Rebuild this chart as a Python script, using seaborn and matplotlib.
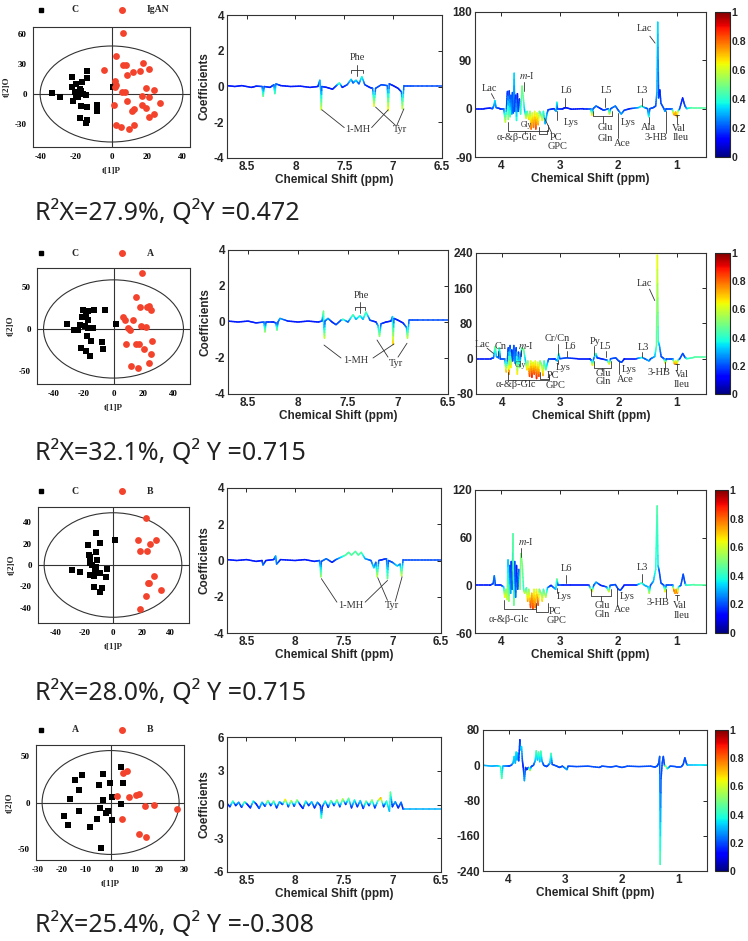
import numpy as np
import pandas as pd
import matplotlib
matplotlib.use("Agg")
import matplotlib.pyplot as plt
import seaborn as sns
from matplotlib.collections import LineCollection
from matplotlib.colors import Normalize
from matplotlib.patches import Ellipse
from matplotlib.lines import Line2D
from matplotlib.ticker import MultipleLocator
import matplotlib.cm as cm

# === Score plot points (t[1]P, t[2]O) ===
r1_black_x = [-33.6, -28.7, -22, -22, -20, -16.6, -13.8, -13.8, -20.7, -17.9, -17, -16, -14.5, -19.8,
              -21.3, -18.9, -17, -13.8, -17.9, -13.8, -14.2, -8.1, -8.1, 0.9]
r1_black_y = [0.7, -3.3, 16.7, 7.3, 10, 11.7, 23.3, 16, 1.7, 5, 2.7, 0, -0.7, -3.3,
              -6.7, -3.3, -11.7, -13.3, -24, -26, -29.3, -10.7, -17.3, 7.3]
r1_red_x = [6.2, 2.8, -4.3, 6.2, 8.1, 17.5, 20.8, 15.7, 12.3, 8.9, 1.9, 2.8, 1.9, 5.8, 7.7, 19.4, 23.6,
            17, 20.8, 8.5, 1.5, 17, 19.2, 27.4, 11.7, 12.5, 20.8, 24, 2.8, 5.5, 9.6, 12.6]
r1_red_y = [60.7, 38.3, 24, 29.3, 29.3, 30.7, 25, 23.3, 21.7, 19.3, 12.7, 9.3, 6.7, 1.7, 1.7, 6, 4,
            -1.7, -3.3, -6.7, -10.7, -10.7, -14, -9.3, -16.7, -15, -23.3, -20, -30.7, -32.7, -34.7, -30.7]

r2_black_x = [-31.3, -26.4, -24.1, -22.3, -20.6, -16.8, -13, -21.2, -18.3, -17.4, -19, -17.4, -15.1, -13.8,
              -17.9, -15.1, -21.8, -18.3, -16.1, -7.8, -7.2, -5.8, 1.8]
r2_black_y = [5.9, -0.8, -0.8, 5.1, 22.9, 20.9, 22.1, 14.2, 15, 10.3, 3.2, 0.8, 1.2, 1.2,
              -7.9, -14.6, -22.5, -26.5, -32.4, -15.8, -23.7, 22.9, 6.3]
r2_red_x = [19.4, 15.2, 17.9, 22.3, 24.1, 25, 6.3, 8, 13, 10, 11.2, 18.8, 21.9, 25.9, 8.5, 15.2, 17.4,
            20.6, 25.5, 11.7, 16.6, 23.7]
r2_red_y = [65.6, 37.2, 26.1, 26.1, 26.9, 22.9, 14.2, 10.3, 10.3, 0.8, -1.6, 4, 2.4, -14.2, -18.2, -17.4,
            -18.2, -23.7, -30, -44.3, -46.2, -40.3]

r3_black_x = [-12.1, -17.4, -8.8, -16.7, -15.8, -12.1, -11.2, -16.3, -14.9, -12.1, -12.6, -28.4, -22.8,
              -8.8, -4.2, -5.1, -15.8, -13, -13.5, -7.9, -8.8, 1.2]
r3_black_y = [29.9, 18.9, 21.1, 9.4, 7.2, 12.6, 4.7, 1.6, -0.3, -2.2, -4.7, -4.7, -6.3,
              -7.2, -3.5, -11.6, -9.4, -10.4, -21.1, -22, -25.5, 23.6]
r3_red_x = [23.3, 17.4, 29.8, 26, 18.6, 23.7, 28.4, 25.1, 24.4, 33.5, 23.3, 18.6]
r3_red_y = [44, 23.6, 23.6, 19.8, 13.5, 12.9, -10, -16.7, -16.7, -23.6, -29.2, -40.9]

r4_black_x = [4.3, -11.5, -14.7, -3.1, -12.9, -4.7, -0.1, 5, -16.7, -3.1, 0.7, 4.3, -4.5, -12.9, -1.2,
              -1.8, -5.6, 0.4, -19.1, -17.4, -8.5, -3.8]
r4_black_y = [37.8, 29.5, 24.5, 30.6, 13, 19.4, 20.9, 20.9, 4, 2.2, 5.4, -1.4, -5.8, -9, -9.7,
              -11.5, -18, -18.7, -14.4, -24.1, -25.9, -49.3]
r4_red_x = [2.7, 5, 6.6, 7.5, 10.4, 11.5, 14.2, 17.9, 27.1, 4.6, 11.5, 14.4]
r4_red_y = [7.2, 31.7, 33.8, 5.4, 7.9, 9, -3.6, -2.9, -6.8, -17.3, -34.2, -37.4]

group_labels = [("C", "IgAN"), ("C", "A"), ("C", "B"), ("A", "B")]
stats_text = ["R\u00b2X=27.9%, Q\u00b2Y =0.472", "R\u00b2X=32.1%, Q\u00b2 Y =0.715",
              "R\u00b2X=28.0%, Q\u00b2 Y =0.715", "R\u00b2X=25.4%, Q\u00b2 Y =-0.308"]

# === Coefficient spectra: (ppm, coefficient, |r|) ===
mid1 = [(8.70, 0.05, .15), (8.62, 0.0, .15), (8.55, 0.05, .15), (8.45, -0.05, .15), (8.40, 0.02, .15),
        (8.34, 0.0, .2), (8.33, -0.55, .5), (8.32, 0.0, .2), (8.26, -0.05, .15), (8.22, 0.1, .2),
        (8.21, -0.4, .45), (8.20, 0.15, .25), (8.15, 0.05, .15), (8.05, 0.0, .15), (7.95, 0.02, .15),
        (7.85, -0.05, .15), (7.77, 0.0, .15), (7.75, 0.35, .3), (7.74, -0.3, .3), (7.735, -1.3, .62),
        (7.73, 0.0, .2), (7.68, -0.05, .15), (7.62, -0.15, .15), (7.58, 0.05, .2), (7.55, 0.2, .45),
        (7.52, -0.05, .15), (7.47, 0.1, .2), (7.43, 0.4, .35), (7.41, 0.2, .2), (7.38, 0.35, .35),
        (7.35, 0.15, .2), (7.32, 0.55, .4), (7.29, 0.1, .2), (7.24, -0.05, .15), (7.21, -0.1, .2),
        (7.195, -1.1, .65), (7.18, -0.1, .2), (7.12, 0.1, .2), (7.06, 0.05, .2), (7.05, -1.35, .68),
        (7.04, 0.15, .2), (7.0, 0.05, .15), (6.95, -0.1, .15), (6.915, -0.3, .2), (6.905, -1.25, .6),
        (6.89, 0.05, .2), (6.8, 0.05, .2), (6.5, 0.05, .2)]
mid2 = [(8.70, 0.05, .15), (8.6, 0.0, .15), (8.5, 0.05, .15), (8.42, -0.05, .15), (8.34, 0.0, .2),
        (8.33, -0.55, .55), (8.32, 0.0, .2), (8.25, 0.0, .15), (8.22, -0.05, .2), (8.21, -0.45, .5),
        (8.2, 0.0, .2), (8.18, 0.2, .3), (8.1, 0.05, .15), (8.0, 0.0, .15), (7.9, 0.05, .15), (7.8, 0.0, .15),
        (7.76, 0.05, .2), (7.745, 0.6, .5), (7.74, -0.3, .3), (7.735, -0.9, .62), (7.73, 0.05, .2),
        (7.7, 0.2, .3), (7.66, 0.0, .15), (7.62, -0.15, .2), (7.57, 0.1, .2), (7.55, 0.15, .45),
        (7.5, 0.0, .2), (7.45, 0.4, .45), (7.42, 0.15, .3), (7.38, 0.35, .4), (7.35, 0.15, .3),
        (7.32, 0.55, .45), (7.28, 0.1, .2), (7.22, 0.0, .15), (7.2, -0.2, .3), (7.185, -0.8, .55),
        (7.17, -0.1, .2), (7.12, 0.0, .15), (7.07, 0.05, .15), (7.055, 0.3, .3), (7.05, -1.25, .72),
        (7.04, 0.2, .2), (7.0, 0.1, .15), (6.95, -0.05, .15), (6.915, -0.3, .25), (6.905, -0.9, .6),
        (6.89, 0.1, .2), (6.8, 0.1, .2), (6.5, 0.1, .2)]
mid3 = [(8.7, 0.05, .15), (8.6, 0.0, .15), (8.5, 0.05, .15), (8.4, -0.05, .15), (8.34, 0.0, .15),
        (8.33, -0.25, .25), (8.3, 0.0, .15), (8.22, 0.05, .15), (8.2, 0.25, .3), (8.19, -0.2, .25),
        (8.15, 0.05, .15), (8.0, 0.0, .15), (7.9, 0.05, .15), (7.8, -0.05, .15), (7.75, 0.0, .2),
        (7.74, -0.4, .4), (7.735, -0.9, .55), (7.73, -0.05, .2), (7.68, 0.1, .25), (7.62, -0.1, .15),
        (7.58, 0.05, .2), (7.52, 0.2, .35), (7.48, 0.3, .45), (7.45, 0.45, .45), (7.42, 0.3, .45),
        (7.38, 0.5, .45), (7.35, 0.3, .45), (7.32, 0.45, .45), (7.28, 0.1, .3), (7.22, 0.0, .2),
        (7.19, -0.4, .35), (7.17, -0.1, .2), (7.155, -0.9, .6), (7.14, 0.0, .2), (7.1, 0.05, .15),
        (7.06, 0.1, .2), (7.05, -1.0, .5), (7.04, 0.0, .2), (7.0, -0.1, .2), (6.95, -0.3, .35),
        (6.92, -0.2, .25), (6.905, -0.85, .6), (6.89, 0.05, .2), (6.7, 0.05, .2), (6.5, 0.05, .2)]
mid4 = [(8.70, 0.1, .2), (8.67, -0.2, .15), (8.64, 0.3, .45), (8.61, -0.1, .15), (8.58, 0.2, .3),
        (8.55, -0.25, .15), (8.52, 0.25, .5), (8.49, 0.0, .15), (8.46, -0.3, .15), (8.43, 0.3, .4),
        (8.40, 0.05, .15), (8.37, -0.35, .2), (8.34, 0.2, .35), (8.31, -0.15, .15), (8.28, 0.35, .55),
        (8.25, -0.1, .15), (8.22, 0.3, .5), (8.19, -0.3, .15), (8.16, 0.25, .35), (8.13, 0.0, .15),
        (8.10, 0.45, .7), (8.07, -0.2, .15), (8.04, 0.35, .6), (8.01, -0.15, .15), (7.98, 0.4, .55),
        (7.95, 0.0, .15), (7.92, -0.35, .15), (7.89, 0.3, .4), (7.86, -0.1, .15), (7.83, 0.25, .35),
        (7.80, -0.3, .15), (7.77, 0.2, .3), (7.74, -0.1, .15), (7.73, -1.2, .45), (7.72, -0.2, .15),
        (7.69, 0.3, .4), (7.66, -0.25, .15), (7.63, 0.35, .5), (7.60, -0.1, .15), (7.57, 0.4, .55),
        (7.54, -0.2, .15), (7.51, 0.5, .6), (7.48, 0.0, .15), (7.45, 0.55, .5), (7.42, -0.3, .15),
        (7.39, 0.4, .4), (7.36, -0.2, .15), (7.33, 0.35, .35), (7.30, -0.35, .15), (7.27, 0.3, .5),
        (7.24, -0.1, .15), (7.21, 0.4, .55), (7.18, -0.3, .15), (7.15, 0.3, .4), (7.12, 0.6, .75),
        (7.09, -0.2, .15), (7.06, 0.3, .4), (7.03, -0.6, .3), (7.02, 1.1, .5), (7.00, -0.2, .15),
        (6.97, 0.25, .3), (6.94, -0.3, .15), (6.91, 0.2, .25), (6.89, -0.4, .15), (6.88, -0.4, .3),
        (6.5, -0.4, .3)]

right1 = [(4.45, 0, .15), (4.3, 0, .15), (4.2, 1, .15), (4.15, 0, .2), (4.12, 8, .3), (4.11, 15, .35),
          (4.09, 2, .25), (4.02, 0, .15), (3.96, 0, .2), (3.93, -25, .62), (3.91, 5, .2), (3.895, 32, .15),
          (3.88, -20, .55), (3.865, 33, .15), (3.85, -15, .45), (3.835, 25, .2), (3.82, -10, .3),
          (3.81, 30, .2), (3.795, -8, .2), (3.78, 66, .35), (3.77, -5, .2), (3.755, 25, .15),
          (3.74, -22, .4), (3.725, 28, .15), (3.71, -5, .2), (3.69, 18, .15), (3.67, -10, .4),
          (3.645, 42, .5), (3.62, 15, .45), (3.6, -5, .3), (3.575, -18, .62), (3.56, -5, .4),
          (3.53, -20, .7), (3.51, -5, .5), (3.49, -38, .8), (3.47, -8, .6), (3.45, -35, .8),
          (3.43, -5, .6), (3.41, -38, .85), (3.39, -8, .6), (3.37, -30, .75), (3.35, -5, .5),
          (3.33, -8, .4), (3.3, -22, .65), (3.28, -5, .4), (3.25, -28, .3), (3.22, -10, .3),
          (3.2, -2, .2), (3.1, 0, .15), (3.06, -5, .3), (3.05, 12, .4), (3.04, 0, .2), (2.95, 0, .15),
          (2.9, 2, .15), (2.8, -1, .15), (2.6, 0, .15), (2.47, 0, .2), (2.45, -12, .7), (2.43, 0, .2),
          (2.38, 5, .25), (2.3, 0, .15), (2.25, -3, .2), (2.17, 0, .2), (2.15, -10, .65), (2.13, 0, .2),
          (2.05, 5, .25), (2.0, -3, .2), (1.95, -10, .3), (1.9, -3, .2), (1.8, 0, .15), (1.65, 2, .3),
          (1.6, 5, .45), (1.55, 2, .3), (1.5, 0, .2), (1.48, -15, .4), (1.46, 0, .2), (1.4, 2, .2),
          (1.36, 5, .2), (1.34, 30, .3), (1.325, 161, .35), (1.31, 20, .2), (1.29, 35, .15),
          (1.27, 10, .2), (1.22, 0, .2), (1.2, -5, .3), (1.18, 0, .2), (1.08, 0, .2), (1.06, -8, .65),
          (1.04, -12, .75), (1.02, -6, .7), (1.0, -15, .75), (0.98, -5, .6), (0.95, 0, .2),
          (0.9, 20, .15), (0.86, 5, .2), (0.83, 0, .3), (0.75, 2, .45), (0.5, 2, .45)]
right2 = [(4.45, 0, .15), (4.2, 0, .15), (4.15, 2, .2), (4.12, 28, .5), (4.1, 5, .3), (4.06, 2, .2),
          (4.05, 25, .45), (4.03, 0, .2), (3.96, 0, .2), (3.93, -30, .75), (3.91, 0, .2), (3.895, 25, .15),
          (3.88, -35, .8), (3.865, 30, .15), (3.85, -20, .7), (3.835, 20, .15), (3.82, -5, .2),
          (3.8, 30, .2), (3.78, -10, .3), (3.76, 25, .15), (3.74, -35, .7), (3.72, 15, .15),
          (3.7, -20, .5), (3.68, 10, .2), (3.66, 25, .45), (3.63, 20, .5), (3.6, -5, .3),
          (3.575, -25, .7), (3.56, -5, .5), (3.53, -40, .85), (3.51, -5, .6), (3.49, -42, .9),
          (3.47, -8, .6), (3.45, -35, .85), (3.43, -5, .6), (3.41, -45, .9), (3.39, -8, .6),
          (3.37, -40, .85), (3.35, -5, .5), (3.32, -15, .5), (3.3, -38, .75), (3.28, -5, .4),
          (3.25, -25, .45), (3.22, -8, .3), (3.2, 0, .2), (3.1, 0, .15), (3.05, -5, .3), (3.03, 12, .45),
          (3.01, 0, .2), (2.9, 2, .2), (2.7, 0, .15), (2.5, 0, .15), (2.47, -3, .2), (2.45, -15, .7),
          (2.43, 0, .2), (2.39, 12, .45), (2.37, 2, .2), (2.3, 0, .15), (2.2, -3, .2), (2.16, -12, .7),
          (2.14, 0, .2), (2.05, 2, .2), (2.0, -5, .2), (1.95, -8, .2), (1.9, 0, .15), (1.7, 0, .15),
          (1.6, 3, .4), (1.55, 0, .2), (1.48, -5, .3), (1.45, 0, .2), (1.38, 5, .3), (1.35, 30, .45),
          (1.335, 235, .65), (1.32, 40, .4), (1.3, 30, .3), (1.27, 5, .2), (1.22, 0, .2), (1.2, -10, .7),
          (1.18, 0, .2), (1.07, 0, .2), (1.04, -12, .8), (1.02, -5, .6), (1.0, -12, .75), (0.98, -3, .5),
          (0.95, 0, .2), (0.9, 12, .2), (0.86, 3, .2), (0.83, 0, .4), (0.7, 3, .45), (0.5, 3, .45)]
right3 = [(4.45, 0, .15), (4.2, 0, .15), (4.14, 2, .2), (4.12, 12, .25), (4.1, 0, .2), (4.0, 0, .15),
          (3.96, -2, .3), (3.94, -15, .65), (3.92, -5, .5), (3.9, -18, .6), (3.885, 32, .3),
          (3.87, -20, .55), (3.855, 25, .2), (3.84, -10, .3), (3.83, 30, .15), (3.815, -5, .2),
          (3.8, 65, .45), (3.785, -25, .5), (3.77, 30, .2), (3.755, -15, .25), (3.74, 25, .15),
          (3.72, -5, .2), (3.7, 20, .2), (3.68, -5, .5), (3.665, 40, .5), (3.64, 25, .5), (3.62, -5, .4),
          (3.6, -10, .6), (3.57, -3, .4), (3.55, -20, .75), (3.53, -5, .5), (3.5, -28, .85),
          (3.48, -10, .7), (3.46, -30, .85), (3.44, -5, .6), (3.42, -28, .8), (3.4, -5, .6),
          (3.37, -25, .85), (3.35, -5, .5), (3.32, -10, .5), (3.3, -20, .7), (3.28, -5, .4),
          (3.24, -15, .6), (3.21, -3, .3), (3.15, 0, .15), (3.07, -5, .3), (3.05, 8, .5), (3.03, 0, .2),
          (2.9, 0, .15), (2.7, 0, .15), (2.5, 0, .15), (2.45, -8, .7), (2.42, 0, .2), (2.38, 4, .3),
          (2.3, 0, .15), (2.2, -2, .2), (2.16, -8, .65), (2.14, 0, .2), (2.05, 1, .2), (2.0, -5, .2),
          (1.96, -6, .2), (1.9, 0, .15), (1.7, 0, .15), (1.6, 3, .45), (1.55, 0, .3), (1.49, -2, .3),
          (1.47, -10, .6), (1.45, 0, .2), (1.4, 5, .3), (1.36, 20, .4), (1.335, 100, .45), (1.32, 25, .35),
          (1.3, 18, .2), (1.27, 3, .2), (1.22, 0, .2), (1.2, -8, .7), (1.18, 0, .2), (1.07, 0, .2),
          (1.05, -6, .8), (1.03, -10, .75), (1.01, -5, .7), (0.99, -10, .8), (0.97, -2, .4),
          (0.93, 0, .2), (0.89, 14, .2), (0.86, 3, .2), (0.84, 0, .4), (0.7, 1, .45), (0.5, 1, .45)]
right4 = [(4.45, 0, .3), (4.3, -2, .3), (4.2, -1, .3), (4.14, -3, .4), (4.12, -30, .45), (4.1, -2, .3),
          (4.0, -2, .2), (3.95, 0, .2), (3.92, 5, .3), (3.9, 20, .35), (3.88, 5, .3), (3.865, 30, .35),
          (3.85, 12, .3), (3.835, 28, .35), (3.82, 10, .2), (3.8, 58, .15), (3.785, 35, .3),
          (3.77, 42, .35), (3.755, 10, .2), (3.74, -5, .15), (3.72, -35, .3), (3.7, -5, .2),
          (3.68, -10, .15), (3.65, -5, .2), (3.62, -12, .6), (3.6, -3, .2), (3.56, 0, .2), (3.53, 10, .3),
          (3.51, 33, .45), (3.49, 12, .3), (3.47, 30, .45), (3.45, 8, .3), (3.43, 32, .45), (3.41, 10, .3),
          (3.38, 0, .2), (3.33, -3, .2), (3.3, 0, .2), (3.27, 5, .3), (3.25, 27, .45), (3.23, 2, .2),
          (3.15, -2, .2), (3.1, -5, .2), (3.05, -2, .2), (2.97, -10, .3), (2.95, -2, .2), (2.8, -3, .2),
          (2.6, -2, .2), (2.4, -5, .2), (2.35, -2, .2), (2.2, -4, .2), (2.1, -2, .2), (2.0, -5, .2),
          (1.9, -2, .2), (1.7, -3, .2), (1.5, -2, .2), (1.42, -4, .2), (1.38, -2, .2), (1.35, 5, .2),
          (1.335, 20, .2), (1.325, -225, .45), (1.31, -30, .2), (1.29, 5, .2), (1.27, 20, .2),
          (1.25, 0, .2), (1.22, -3, .6), (1.2, -8, .4), (1.15, -2, .2), (1.05, -3, .2), (0.95, -3, .2),
          (0.92, 2, .2), (0.89, 17, .2), (0.86, 3, .2), (0.84, 0, .3), (0.6, 0, .35), (0.5, 0, .35)]

# === Annotation labels (text, ppm, coef, size) and guide lines ===
mid_labels = [
    [("Phe", 7.37, 1.6, 7.5), ("1-MH", 7.36, -2.42, 7.5), ("Tyr", 6.93, -2.42, 7.5)],
    [("Phe", 7.37, 1.45, 7.5), ("1-MH", 7.42, -2.15, 7.5), ("Tyr", 7.02, -2.3, 7.5)],
    [("1-MH", 7.43, -2.5, 7.5), ("Tyr", 7.0, -2.5, 7.5)],
    [],
]
mid_lines = [
    [((7.43, 7.43, 7.31, 7.31), (0.75, 0.95, 0.95, 0.75)), ((7.37, 7.37), (1.2, 0.6)),
     ((7.73, 7.5), (-1.3, -2.3)), ((7.22, 7.05), (-2.3, -1.3)),
     ((7.18, 6.98), (-1.15, -2.15)), ((6.89, 6.96), (-1.25, -2.15))],
    [((7.43, 7.43, 7.33, 7.33), (0.65, 0.85, 0.85, 0.65)), ((7.38, 7.38), (1.1, 0.5)),
     ((7.74, 7.57), (-1.28, -2.0)), ((7.25, 7.04), (-2.0, -1.22)),
     ((7.21, 7.1), (-1.0, -1.95)), ((6.91, 7.0), (-1.18, -1.95))],
    [((7.73, 7.57), (-1.0, -2.3)), ((7.28, 7.05), (-2.3, -1.1)),
     ((7.15, 7.05), (-0.95, -2.2)), ((6.9, 6.97), (-0.9, -2.25))],
    [],
]
right_labels = [
    [("Lac", 4.2, 37, 7.5), ("$m$-I", 3.56, 62, 7.5), ("L6", 2.88, 33, 7.5), ("L5", 2.2, 33, 7.5),
     ("L3", 1.59, 33, 7.5), ("Lac", 1.55, 149, 7.5), ("Gly", 3.57, -31, 5.5), ("α-&β-Glc", 3.74, -53, 7.5),
     ("PC", 3.07, -53, 7.5), ("GPC", 3.03, -71, 7.5), ("Lys", 2.8, -25, 7.5), ("Glu", 2.23, -36, 7.5),
     ("Gln", 2.23, -55, 7.5), ("Lys", 1.83, -26, 7.5), ("Ace", 1.93, -64, 7.5), ("Ala", 1.48, -36, 7.5),
     ("3-HB", 1.36, -54, 7.5), ("Val", 0.96, -37, 7.5), ("Ileu", 0.94, -54, 7.5)],
    [("Lac", 4.33, 32, 7.5), ("Cn", 4.03, 28, 7.5), ("$m$-I", 3.6, 30, 7.5), ("Cr/Cn", 3.05, 46, 7.5),
     ("L6", 2.83, 27, 7.5), ("Py", 2.4, 40, 7.5), ("L5", 2.22, 28, 7.5), ("L3", 1.58, 26, 7.5),
     ("Lac", 1.55, 170, 7.5), ("Gly", 3.69, -14, 5.5), ("α-&β-Glc", 3.77, -59, 7.5), ("PC", 3.12, -37, 7.5),
     ("GPC", 3.08, -60, 7.5), ("Lys", 2.95, -20, 7.5), ("Glu", 2.26, -34, 7.5), ("Gln", 2.26, -52, 7.5),
     ("Lys", 1.82, -24, 7.5), ("Ace", 1.88, -46, 7.5), ("3-HB", 1.3, -32, 7.5), ("Val", 0.92, -36, 7.5),
     ("Ileu", 0.92, -58, 7.5)],
    [("$m$-I", 3.58, 55, 7.5), ("L6", 2.88, 21, 7.5), ("L3", 1.59, 22, 7.5), ("Lys", 2.92, -14, 7.5),
     ("α-&β-Glc", 3.87, -43, 7.5), ("PC", 3.08, -33, 7.5), ("GPC", 3.05, -44, 7.5), ("Glu", 2.28, -26, 7.5),
     ("Gln", 2.28, -37, 7.5), ("Lys", 1.84, -14, 7.5), ("Ace", 1.93, -30, 7.5), ("3-HB", 1.33, -21, 7.5),
     ("Val", 0.95, -26, 7.5), ("Ileu", 0.92, -38, 7.5)],
    [],
]
right_lines = [
    [((4.17, 4.12), (28, 18)), ((3.62, 3.62), (50, 33)), ((2.91, 2.91), (20, 4)), ((2.22, 2.22), (20, 4)),
     ((1.6, 1.6), (20, 5)), ((1.46, 1.37), (135, 122)), ((3.89, 3.89, 3.2, 3.2), (-25, -42, -42, -30)),
     ((3.6, 3.6), (-42, -47)), ((3.35, 3.35, 3.22, 3.22), (-35, -47, -47, -40)), ((3.26, 3.14), (-18, -45)),
     ((3.05, 3.05), (-5, -22)), ((2.43, 2.43, 2.1, 2.1), (-5, -14, -14, -5)), ((2.26, 2.26), (-14, -27)),
     ((2.0, 2.0), (-8, -55)), ((1.48, 1.48), (-15, -28)), ((1.18, 1.18), (-5, -45)),
     ((1.03, 0.97), (-12, -12)), ((1.0, 1.0), (-12, -28))],
    [((4.26, 4.15), (24, 12)), ((4.07, 4.07), (18, 6)), ((3.68, 3.68), (20, 6)), ((3.05, 3.05), (34, 8)),
     ((2.88, 2.88), (17, 3)), ((2.42, 2.42), (30, 8)), ((2.22, 2.22), (18, 4)), ((1.6, 1.6), (16, 3)),
     ((1.47, 1.38), (158, 132)), ((3.9, 3.9, 3.2, 3.2), (-30, -48, -48, -40)), ((3.6, 3.6), (-48, -52)),
     ((3.35, 3.35, 3.2, 3.2), (-30, -45, -45, -35)), ((3.04, 3.04), (-3, -12)),
     ((2.43, 2.43, 2.14, 2.14), (-5, -20, -20, -5)), ((2.28, 2.28), (-20, -27)), ((2.0, 2.0), (-5, -35)),
     ((1.2, 1.2), (-8, -25)), ((1.03, 0.97), (-12, -12)), ((1.0, 1.0), (-12, -25))],
    [((3.67, 3.67), (47, 36)), ((2.89, 2.89), (13, 3)), ((1.59, 1.59), (14, 4)), ((3.05, 3.05), (-3, -10)),
     ((3.95, 3.95, 3.4, 3.4), (-18, -30, -30, -22)), ((3.4, 3.4, 3.2, 3.2), (-25, -33, -33, -22)),
     ((2.47, 2.47, 2.13, 2.13), (-5, -13, -13, -5)), ((2.3, 2.3), (-13, -20)), ((2.03, 2.03), (-3, -26)),
     ((1.18, 1.18), (-5, -16)), ((1.03, 0.97), (-12, -12)), ((1.0, 1.0), (-12, -19))],
    [],
]

scores = [(r1_black_x, r1_black_y, r1_red_x, r1_red_y), (r2_black_x, r2_black_y, r2_red_x, r2_red_y),
          (r3_black_x, r3_black_y, r3_red_x, r3_red_y), (r4_black_x, r4_black_y, r4_red_x, r4_red_y)]
mids = [mid1, mid2, mid3, mid4]
rights = [right1, right2, right3, right4]

# === Layout (pixel boxes: left, top, right, bottom) and axis settings ===
score_box = [(33, 27, 190, 147), (37, 268, 190, 384), (38, 507, 189, 623), (36, 745, 184, 860)]
score_xlim = [(-44, 44), (-51.4, 51.4), (-52.3, 53), (-30.5, 30)]
score_ylim = [(-53, 67), (-65, 72), (-54.4, 54.4), (-62, 62)]
score_xstep = [20, 20, 20, 10]
score_ystep = [30, 50, 20, 50]
ellipse_ab = [(40, 48), (47, 58), (48, 49), (28, 56)]
legend_y = [10, 253, 491, 730]
mid_box = [(227, 15, 442, 158), (228, 250, 448, 394), (227, 488, 441, 633), (227, 737, 441, 872)]
mid_ylim = [(-4, 4), (-4, 4), (-4, 4), (-6, 6)]
mid_ystep = [2, 2, 2, 3]
right_box = [(475, 12, 706, 157), (476, 253, 706, 394), (475, 490, 706, 633), (483, 730, 707, 871)]
right_ylim = [(-90, 180), (-80, 240), (-60, 120), (-240, 80)]
right_ystep = [90, 80, 60, 80]
cbar_box = [(715, 12, 730, 157), (715, 253, 730, 394), (715, 490, 728, 633), (715, 730, 728, 871)]
stats_y = [213, 453, 693, 925]

sns.set_style("white")
plt.rcParams["axes.unicode_minus"] = False
plt.rcParams["mathtext.fontset"] = "stix"
SERIF = "Liberation Serif"
SANS = "Liberation Sans"
INK = "#333333"
RED = "#f4432c"

W, H = 748, 941
fig = plt.figure(figsize=(W / 100, H / 100), dpi=100)
fig.patch.set_facecolor("white")


def box(b):
    l, t, r, bt = b
    return fig.add_axes([l / W, 1 - bt / H, (r - l) / W, (bt - t) / H])


def draw_spectrum(ax, pts, steps=6):
    x = np.array([p[0] for p in pts])
    y = np.array([p[1] for p in pts])
    r = np.array([p[2] for p in pts])
    # split each straight segment into short pieces so the |r| colour fades along it
    f = np.linspace(0, 1, steps + 1)
    segs, cols = [], []
    for k in range(len(x) - 1):
        xs = x[k] + (x[k + 1] - x[k]) * f
        ys = y[k] + (y[k + 1] - y[k]) * f
        rs = r[k] + (r[k + 1] - r[k]) * f
        for j in range(steps):
            segs.append([(xs[j], ys[j]), (xs[j + 1], ys[j + 1])])
            cols.append((rs[j] + rs[j + 1]) / 2)
    lc = LineCollection(segs, cmap="jet", norm=Normalize(0, 1), linewidths=1.1, capstyle="round")
    lc.set_array(np.array(cols))
    ax.add_collection(lc)


def annotate(ax, labels, lines):
    for txt, x, y, sz in labels:
        ax.text(x, y, txt, family=SERIF, fontsize=sz, ha="center", va="center", color=INK)
    for xs, ys in lines:
        ax.plot(xs, ys, color=INK, lw=0.6)


def style_spec_axes(ax):
    ax.tick_params(direction="in", top=True, right=True, length=3, width=0.7, pad=2)
    for s in ax.spines.values():
        s.set_linewidth(0.8)
        s.set_color(INK)
    for lab in ax.get_xticklabels() + ax.get_yticklabels():
        lab.set_fontfamily(SANS)
        lab.set_fontweight("bold")
        lab.set_fontsize(8.5)
    ax.set_xlabel("Chemical Shift (ppm)", family=SANS, weight="bold", fontsize=8.5, labelpad=1)


for i in range(4):
    # ---- score plot ----
    bx, by, rx, ry = scores[i]
    df = pd.DataFrame({"t1": bx + rx, "t2": by + ry, "grp": ["g1"] * len(bx) + ["g2"] * len(rx)})
    ax = box(score_box[i])
    sns.scatterplot(data=df[df.grp == "g1"], x="t1", y="t2", marker="s", color="black", s=17,
                    linewidth=0, ax=ax, zorder=3)
    sns.scatterplot(data=df[df.grp == "g2"], x="t1", y="t2", marker="o", color=RED, s=24,
                    linewidth=0, ax=ax, zorder=3)
    a, b = ellipse_ab[i]
    ax.add_patch(Ellipse((0, 0), 2 * a, 2 * b, fill=False, lw=0.8, ec=INK))
    ax.axhline(0, color=INK, lw=0.8)
    ax.axvline(0, color=INK, lw=0.8)
    ax.set_xlim(*score_xlim[i])
    ax.set_ylim(*score_ylim[i])
    ax.xaxis.set_major_locator(MultipleLocator(score_xstep[i]))
    ax.yaxis.set_major_locator(MultipleLocator(score_ystep[i]))
    ax.xaxis.set_minor_locator(MultipleLocator(5))
    ax.yaxis.set_minor_locator(MultipleLocator(10))
    ax.tick_params(which="both", direction="out", width=0.7, pad=1.5, colors=INK)
    ax.tick_params(which="major", length=3)
    ax.tick_params(which="minor", length=1.5)
    for s in ax.spines.values():
        s.set_linewidth(0.8)
        s.set_color(INK)
    for lab in ax.get_xticklabels() + ax.get_yticklabels():
        lab.set_fontfamily(SERIF)
        lab.set_fontweight("bold")
        lab.set_fontsize(6.5)
        lab.set_color("black")
    ax.set_xlabel("t[1]P", family=SERIF, weight="bold", fontsize=6.5, labelpad=4)
    ax.set_ylabel("t[2]O", family=SERIF, weight="bold", fontsize=6.5, labelpad=3)

    # legend above the score plot
    ly = 1 - legend_y[i] / H
    fig.add_artist(Line2D([41 / W], [ly], marker="s", color="black", ms=3.5, ls="", transform=fig.transFigure))
    fig.add_artist(Line2D([122 / W], [ly], marker="o", color=RED, ms=4, ls="", transform=fig.transFigure))
    g1, g2 = group_labels[i]
    fig.text(75 / W, ly, g1, family=SERIF, weight="bold", fontsize=7, ha="center", va="center")
    fig.text(147 / W, ly, g2, family=SERIF, weight="bold", fontsize=7, ha="left", va="center")

    # ---- aromatic region coefficients ----
    ax = box(mid_box[i])
    draw_spectrum(ax, mids[i])
    ax.set_xlim(8.7, 6.5)
    lo, hi = mid_ylim[i]
    yt = np.arange(lo, hi + 0.1, mid_ystep[i])
    ax.set_xticks([8.5, 8, 7.5, 7, 6.5])
    ax.set_xticklabels(["8.5", "8", "7.5", "7", "6.5"])
    ax.set_yticks(yt)
    ax.set_yticklabels([f"{v:g}" for v in yt])
    ax.set_ylim(lo, hi)
    annotate(ax, mid_labels[i], mid_lines[i])
    style_spec_axes(ax)
    ax.set_ylabel("Coefficients", family=SANS, weight="bold", fontsize=8.5, labelpad=2)

    # ---- aliphatic region coefficients ----
    ax = box(right_box[i])
    draw_spectrum(ax, rights[i])
    ax.set_xlim(4.45, 0.5)
    lo, hi = right_ylim[i]
    yt = np.arange(lo, hi + 1, right_ystep[i])
    ax.set_xticks([4, 3, 2, 1])
    ax.set_xticklabels(["4", "3", "2", "1"])
    ax.set_yticks(yt)
    ax.set_yticklabels([f"{v:g}" for v in yt])
    ax.set_ylim(lo, hi)
    annotate(ax, right_labels[i], right_lines[i])
    style_spec_axes(ax)

    # ---- colorbar ----
    cax = box(cbar_box[i])
    cb = fig.colorbar(cm.ScalarMappable(norm=Normalize(0, 1), cmap="jet"), cax=cax)
    cb.set_ticks([0, 0.2, 0.4, 0.6, 0.8, 1])
    cb.set_ticklabels(["0", "0.2", "0.4", "0.6", "0.8", "1"])
    cb.outline.set_linewidth(0.8)
    cax.tick_params(direction="in", length=2.5, width=0.7, pad=1)
    for lab in cax.get_yticklabels():
        lab.set_fontfamily(SANS)
        lab.set_fontweight("bold")
        lab.set_fontsize(7.5)

    # ---- model statistics ----
    fig.text(35 / W, 1 - stats_y[i] / H, stats_text[i], family="Noto Sans", fontsize=18,
             ha="left", va="center", color="#222222")

fig.savefig("out.png", dpi=100, facecolor="white")
plt.close(fig)
print("saved out.png")
